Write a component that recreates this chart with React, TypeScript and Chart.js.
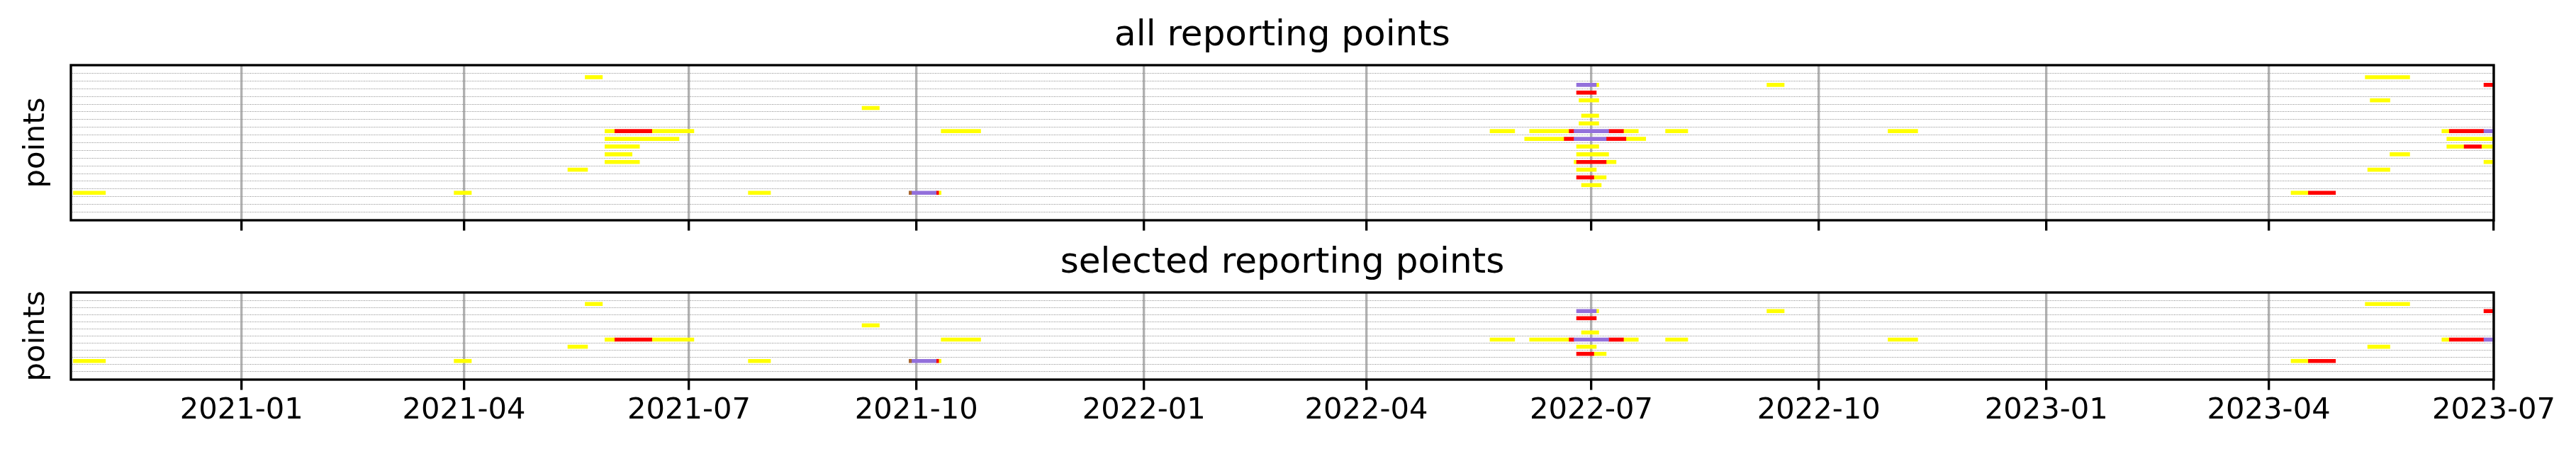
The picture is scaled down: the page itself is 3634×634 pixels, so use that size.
import React, { useEffect, useRef } from 'react';
import { Chart, registerables } from 'chart.js';

Chart.register(...registerables);

// ---------- data ----------
const X_MIN = '2020-10-24';
const X_MAX = '2023-07-01';
const TICK_DATES = [
  '2021-01-01', '2021-04-01', '2021-07-01', '2021-10-01',
  '2022-01-01', '2022-04-01', '2022-07-01', '2022-10-01',
  '2023-01-01', '2023-04-01', '2023-07-01',
];
const ALL_ROW_COUNT = 18;
// rows of the "all" chart that appear in the "selected" chart (top to bottom)
const SELECTED_ROWS = [0, 1, 2, 4, 5, 7, 12, 13, 15, 16];

const TITLE_ALL = 'all reporting points';
const TITLE_SELECTED = 'selected reporting points';
const Y_LABEL = 'points';

type Seg = [number, string, string]; // [row, start, end]

const YELLOW_SEGS: Seg[] = [
  [0, '2021-05-20', '2021-05-27'], [0, '2023-05-10', '2023-05-28'],
  [1, '2022-07-03', '2022-07-04'], [1, '2022-09-10', '2022-09-17'],
  [3, '2022-06-26', '2022-07-04'], [3, '2023-05-12', '2023-05-20'],
  [4, '2021-09-09', '2021-09-16'],
  [5, '2022-06-27', '2022-07-04'],
  [6, '2022-06-26', '2022-07-04'],
  [7, '2021-05-28', '2021-06-01'], [7, '2021-06-16', '2021-07-03'], [7, '2021-10-11', '2021-10-27'],
  [7, '2022-05-21', '2022-05-31'], [7, '2022-06-06', '2022-06-22'], [7, '2022-07-14', '2022-07-20'],
  [7, '2022-07-31', '2022-08-09'], [7, '2022-10-29', '2022-11-10'], [7, '2023-06-10', '2023-06-13'],
  [8, '2021-05-28', '2021-06-27'], [8, '2022-06-04', '2022-06-20'], [8, '2022-07-15', '2022-07-23'],
  [8, '2023-06-12', '2023-07-01'],
  [9, '2021-05-28', '2021-06-11'], [9, '2022-06-25', '2022-07-04'], [9, '2023-06-12', '2023-06-19'],
  [9, '2023-06-26', '2023-07-01'],
  [10, '2021-05-28', '2021-06-08'], [10, '2022-06-25', '2022-07-08'], [10, '2023-05-20', '2023-05-28'],
  [11, '2021-05-28', '2021-06-11'], [11, '2022-06-24', '2022-06-25'], [11, '2022-07-07', '2022-07-11'],
  [11, '2023-06-27', '2023-07-01'],
  [12, '2021-05-13', '2021-05-21'], [12, '2022-06-25', '2022-07-03'], [12, '2023-05-11', '2023-05-20'],
  [13, '2022-07-02', '2022-07-07'],
  [14, '2022-06-27', '2022-07-05'],
  [15, '2020-10-25', '2020-11-07'], [15, '2021-03-28', '2021-04-04'], [15, '2021-07-25', '2021-08-03'],
  [15, '2021-10-10', '2021-10-11'], [15, '2023-04-10', '2023-04-17'],
];

const RED_SEGS: Seg[] = [
  [1, '2023-06-27', '2023-07-01'],
  [2, '2022-06-25', '2022-07-03'],
  [7, '2021-06-01', '2021-06-16'], [7, '2022-06-22', '2022-06-24'], [7, '2022-07-08', '2022-07-14'],
  [7, '2023-06-13', '2023-06-27'],
  [8, '2022-06-20', '2022-06-24'], [8, '2022-07-07', '2022-07-15'],
  [9, '2023-06-19', '2023-06-26'],
  [11, '2022-06-25', '2022-07-07'],
  [13, '2022-06-25', '2022-07-02'],
  [15, '2021-10-09', '2021-10-10'], [15, '2023-04-17', '2023-04-28'],
];

const PURPLE_SEGS: Seg[] = [
  [1, '2022-06-25', '2022-07-03'],
  [7, '2022-06-24', '2022-07-08'], [7, '2023-06-27', '2023-07-01'],
  [8, '2022-06-24', '2022-07-07'],
  [15, '2021-09-29', '2021-10-09'],
];

const BROWN_SEGS: Seg[] = [
  [15, '2021-09-28', '2021-09-29'],
];

const COLOR_YELLOW = '#ffff00';
const COLOR_RED = '#ff0000';
const COLOR_PURPLE = '#9370db';
const COLOR_BROWN = '#a8662e';

// ---------- helpers ----------
const toDay = (s: string) => {
  const [y, m, d] = s.split('-').map(Number);
  return Date.UTC(y, m - 1, d) / 86400000;
};
const fmtDay = (v: number) => {
  const dt = new Date(Math.round(v) * 86400000);
  return `${dt.getUTCFullYear()}-${String(dt.getUTCMonth() + 1).padStart(2, '0')}`;
};
const toPoints = (segs: Seg[]) => segs.map(([r, s, e]) => ({ y: r, x: [toDay(s), toDay(e)] }));
const remap = (segs: Seg[]): Seg[] =>
  segs
    .filter((s) => SELECTED_ROWS.includes(s[0]))
    .map((s) => [SELECTED_ROWS.indexOf(s[0]), s[1], s[2]] as Seg);

const FONT = 'DejaVu Sans';
const PX_10PT = 41.67;
const PX_12PT = 50;
const LW = 3.33;

const boxPlugin = {
  id: 'axesBox',
  afterDraw(chart: any) {
    const { ctx, chartArea } = chart;
    ctx.save();
    ctx.strokeStyle = '#000';
    ctx.lineWidth = LW;
    ctx.setLineDash([]);
    ctx.strokeRect(chartArea.left, chartArea.top, chartArea.right - chartArea.left, chartArea.bottom - chartArea.top);
    ctx.restore();
  },
};

function buildConfig(o: {
  title: string;
  nRows: number;
  yellow: Seg[];
  red: Seg[];
  purple: Seg[];
  brown: Seg[];
  titlePadTop: number;
  titlePadBottom: number;
  xAxisHeight: number;
  showLabels: boolean;
}): any {
  const rows = Array.from({ length: o.nRows }, (_, i) => i);
  const barDs = (label: string, segs: Seg[], color: string, order: number) => ({
    label,
    data: toPoints(segs),
    backgroundColor: color,
    borderWidth: 0,
    barThickness: 5,
    grouped: false,
    order,
  });
  return {
    type: 'bar',
    data: {
      datasets: [
        barDs('brown', o.brown, COLOR_BROWN, 0),
        barDs('purple', o.purple, COLOR_PURPLE, 1),
        barDs('red', o.red, COLOR_RED, 2),
        barDs('yellow', o.yellow, COLOR_YELLOW, 3),
      ],
    },
    plugins: [boxPlugin],
    options: {
      indexAxis: 'y',
      animation: false,
      responsive: false,
      maintainAspectRatio: false,
      devicePixelRatio: 1,
      events: [],
      layout: { padding: { left: 0, right: 116, top: 0, bottom: 0 } },
      plugins: {
        legend: { display: false },
        tooltip: { enabled: false },
        title: {
          display: true,
          text: o.title,
          fullSize: false,
          color: '#000',
          font: { family: FONT, size: PX_12PT, weight: 'normal' },
          padding: { top: o.titlePadTop, bottom: o.titlePadBottom },
        },
      },
      scales: {
        x: {
          type: 'linear',
          position: 'bottom',
          min: toDay(X_MIN),
          max: toDay(X_MAX),
          z: 1,
          afterBuildTicks: (s: any) => {
            s.ticks = TICK_DATES.map((d) => ({ value: toDay(d) }));
          },
          afterFit: (s: any) => {
            s.height = o.xAxisHeight;
          },
          ticks: {
            display: o.showLabels,
            autoSkip: false,
            maxRotation: 0,
            minRotation: 0,
            padding: 5,
            color: '#000',
            font: { family: FONT, size: PX_10PT },
            callback: (v: any) => fmtDay(Number(v)),
          },
          grid: {
            color: '#b0b0b0',
            lineWidth: LW,
            drawTicks: true,
            tickLength: 14.6,
            tickColor: '#000',
            tickWidth: LW,
          },
          border: { display: false },
        },
        y: {
          type: 'linear',
          position: 'left',
          min: -1,
          max: o.nRows,
          reverse: true,
          z: 1,
          afterBuildTicks: (s: any) => {
            s.ticks = rows.map((r) => ({ value: r }));
          },
          afterFit: (s: any) => {
            s.width = 100;
          },
          ticks: { display: false },
          grid: {
            color: '#8a8a8a',
            lineWidth: 1,
            drawTicks: false,
          },
          border: { display: false, dash: [1, 1.3] },
          title: {
            display: true,
            text: Y_LABEL,
            color: '#000',
            font: { family: FONT, size: PX_10PT },
            padding: { top: 26, bottom: 0 },
          },
        },
      },
    },
  };
}

export default function App() {
  const ref1 = useRef<HTMLCanvasElement | null>(null);
  const ref2 = useRef<HTMLCanvasElement | null>(null);

  useEffect(() => {
    Chart.defaults.font.family = FONT;
    const c1 = new Chart(
      ref1.current as HTMLCanvasElement,
      buildConfig({
        title: TITLE_ALL,
        nRows: ALL_ROW_COUNT,
        yellow: YELLOW_SEGS,
        red: RED_SEGS,
        purple: PURPLE_SEGS,
        brown: BROWN_SEGS,
        titlePadTop: 21,
        titlePadBottom: 11,
        xAxisHeight: 19,
        showLabels: false,
      })
    );
    const c2 = new Chart(
      ref2.current as HTMLCanvasElement,
      buildConfig({
        title: TITLE_SELECTED,
        nRows: SELECTED_ROWS.length,
        yellow: remap(YELLOW_SEGS),
        red: remap(RED_SEGS),
        purple: remap(PURPLE_SEGS),
        brown: remap(BROWN_SEGS),
        titlePadTop: 12,
        titlePadBottom: 11,
        xAxisHeight: 98,
        showLabels: true,
      })
    );
    return () => {
      c1.destroy();
      c2.destroy();
    };
  }, []);

  return (
    <div style={{ position: 'fixed', left: 0, top: 0, width: 3634, height: 634, background: '#fff' }}>
      <canvas ref={ref1} width={3634} height={330} style={{ position: 'absolute', left: 0, top: 0, width: 3634, height: 330 }} />
      <canvas ref={ref2} width={3634} height={304} style={{ position: 'absolute', left: 0, top: 330, width: 3634, height: 304 }} />
    </div>
  );
}
